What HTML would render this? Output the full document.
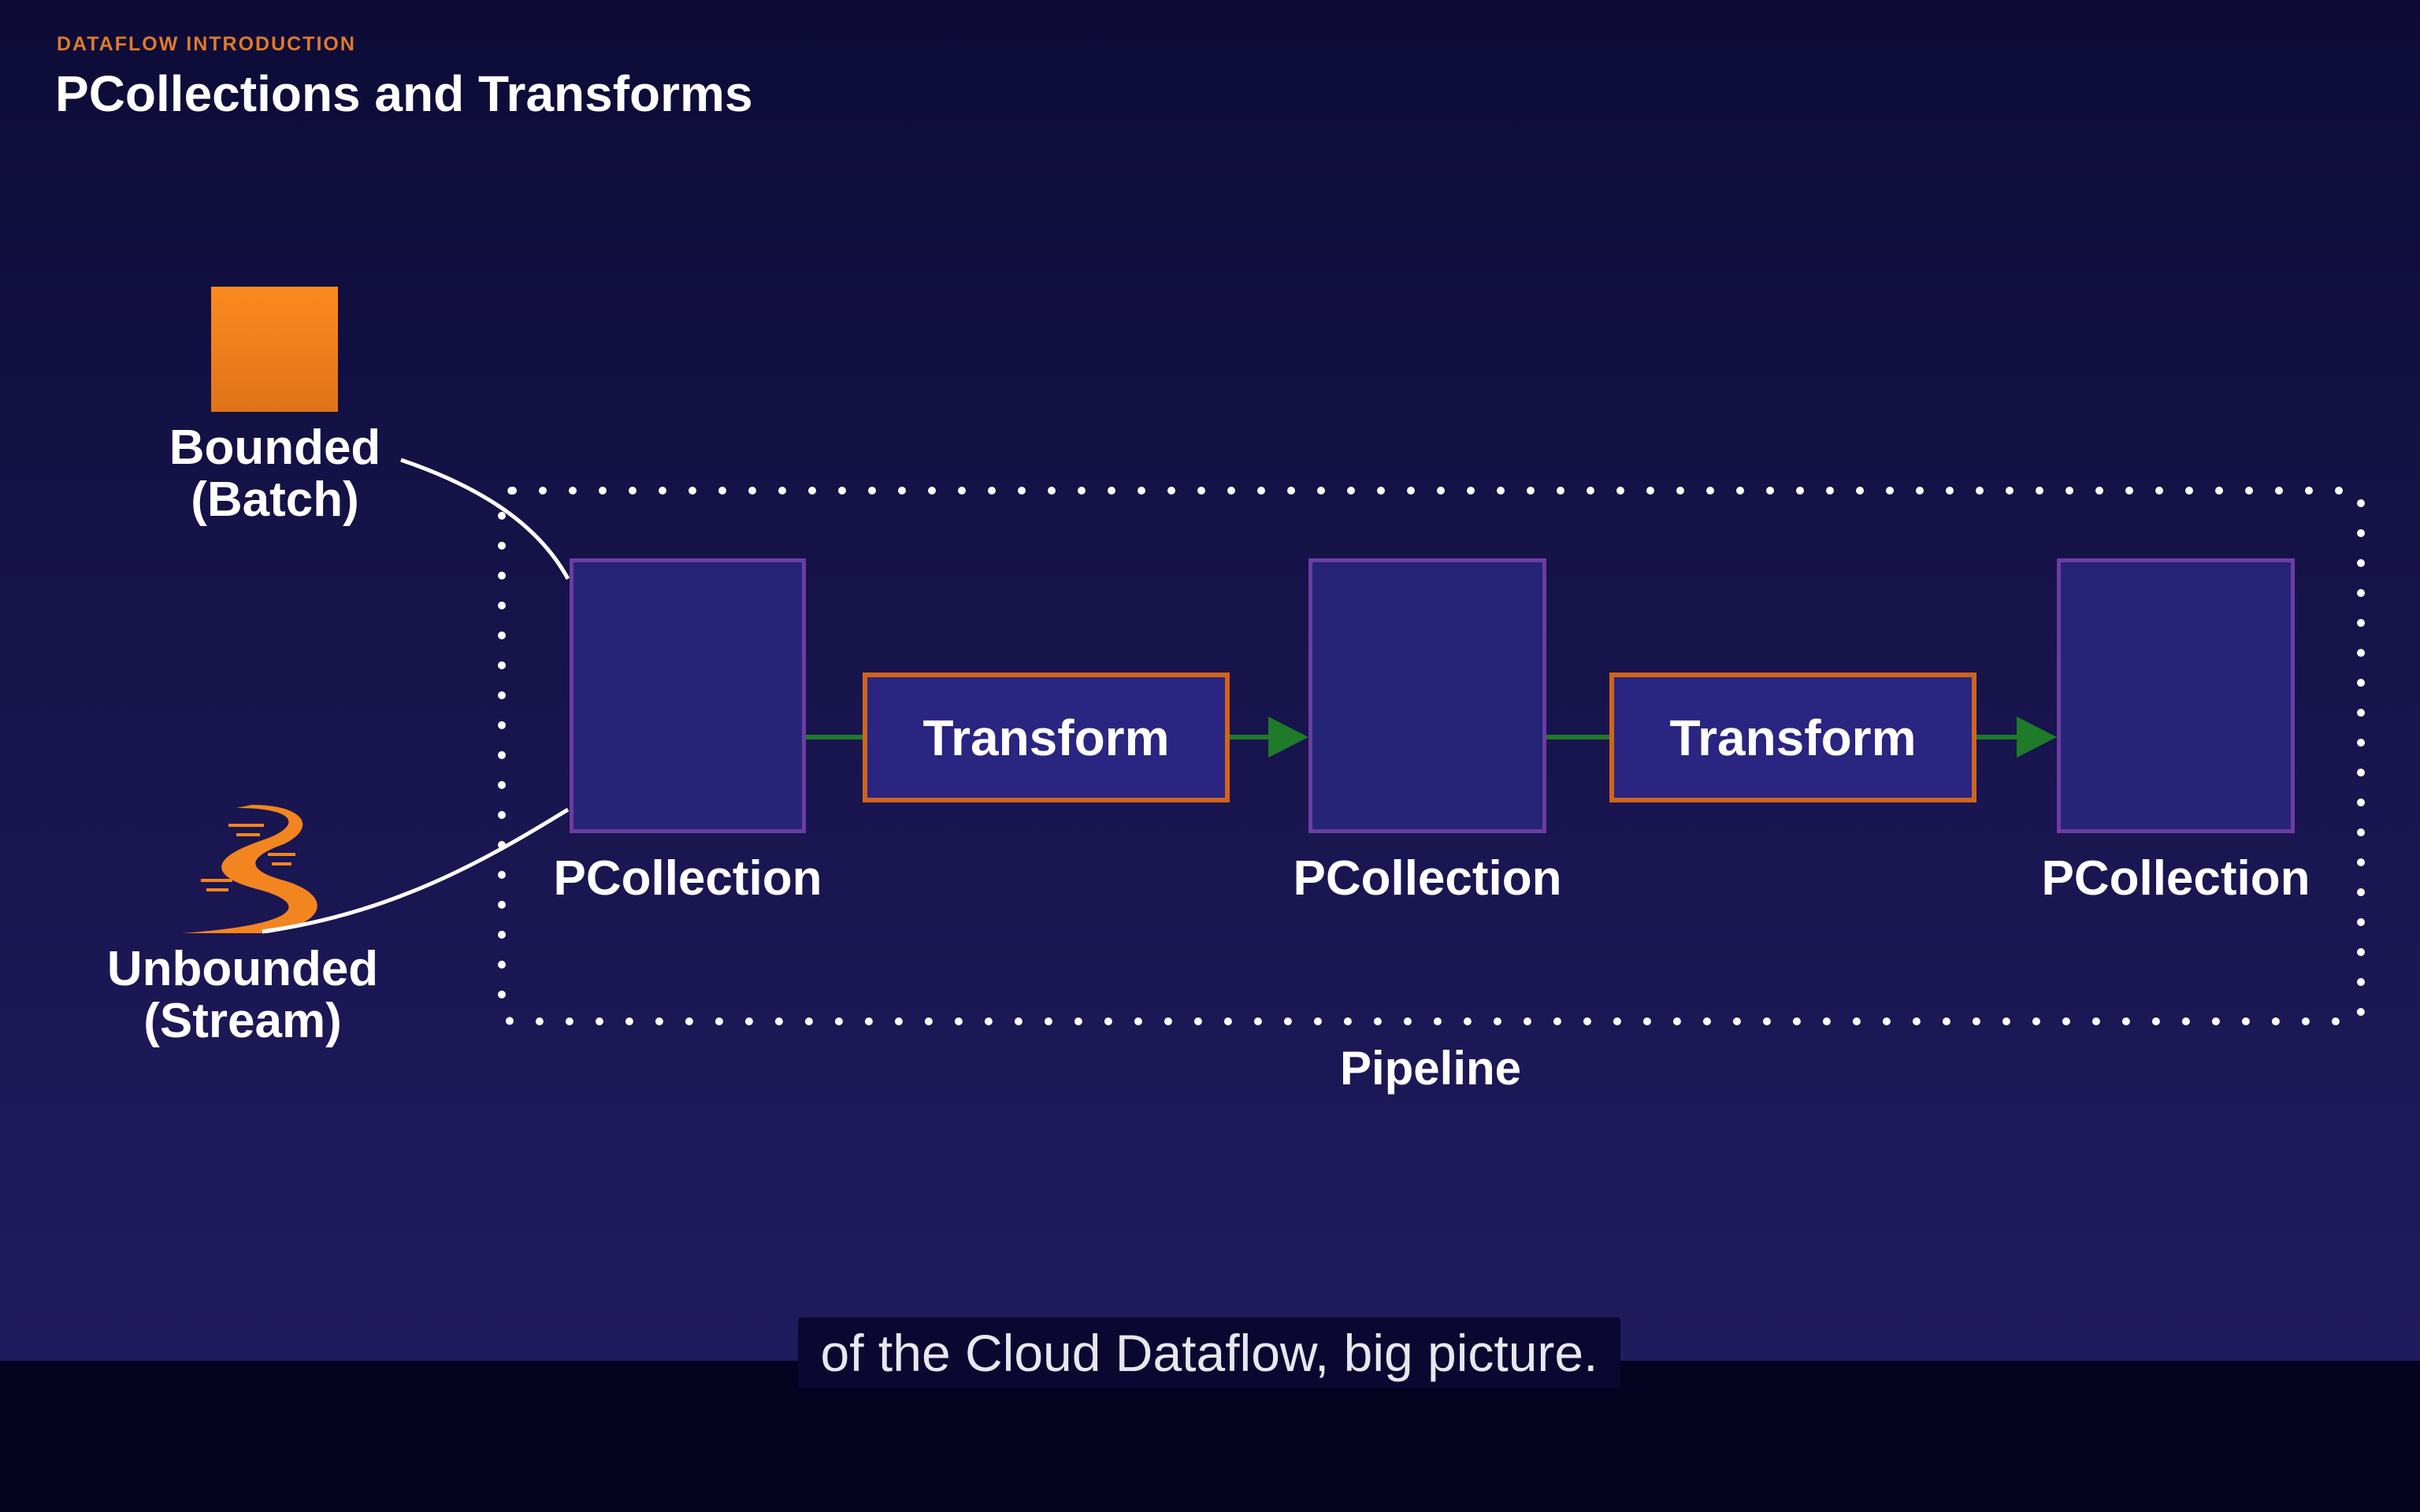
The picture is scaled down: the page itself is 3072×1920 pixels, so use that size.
<!DOCTYPE html>
<html><head><meta charset="utf-8"><style>
html,body{margin:0;padding:0}
body{width:3072px;height:1920px;position:relative;overflow:hidden;background:linear-gradient(180deg,#0d0b36 0%,#16134a 40%,#201b5e 90%);font-family:"Liberation Sans",sans-serif}
.t{position:absolute;color:#fff;font-weight:bold;white-space:nowrap}
.c{text-align:center;transform:translateX(-50%)}
.pc{position:absolute;background:#262477;border:5px solid #6b3da3;box-sizing:border-box}
.tr{position:absolute;background:#2a2580;border:6px solid #d0641e;box-sizing:border-box;color:#fff;font-weight:bold;font-size:64px;display:flex;align-items:center;justify-content:center}
</style></head><body>
<div class="t" style="left:72px;top:42px;font-size:25px;color:#e07a2a;letter-spacing:2px">DATAFLOW INTRODUCTION</div>
<div class="t" style="left:70px;top:82px;font-size:64px;letter-spacing:0px">PCollections and Transforms</div>

<div style="position:absolute;left:268px;top:364px;width:161px;height:159px;background:linear-gradient(#fb8a1e,#e0731a)"></div>
<div class="t c" style="left:349px;top:536px;font-size:62px;line-height:66px">Bounded<br>(Batch)</div>
<div class="t c" style="left:308px;top:1198px;font-size:62px;line-height:66px">Unbounded<br>(Stream)</div>

<svg width="3072" height="1920" style="position:absolute;left:0;top:0">
<path d="M300 1026 C380 1026 385 1050 330 1068 C260 1092 270 1115 330 1130 C395 1148 380 1175 230 1185 L340 1185 C420 1172 420 1135 360 1118 C310 1104 315 1088 360 1072 C405 1050 385 1022 320 1022 Z" fill="#f38520"/>
<g stroke="#f38520" stroke-width="4">
<line x1="290" y1="1048" x2="335" y2="1048"/><line x1="300" y1="1060" x2="330" y2="1060"/>
<line x1="340" y1="1085" x2="375" y2="1085"/><line x1="345" y1="1097" x2="370" y2="1097"/>
<line x1="255" y1="1118" x2="295" y2="1118"/><line x1="262" y1="1130" x2="290" y2="1130"/>
</g>
<path d="M509 584 C600 615 680 660 721 735" stroke="#fff" stroke-width="5" fill="none"/>
<path d="M333 1183 C500 1160 620 1090 721 1028" stroke="#fff" stroke-width="5" fill="none"/>
<rect x="637" y="623" width="2360" height="674" rx="14" fill="none" stroke="#fff" stroke-width="10" stroke-linecap="round" stroke-dasharray="0 38"/>
<g stroke="#1f7a2a" stroke-width="6">
<line x1="1023" y1="936" x2="1095" y2="936"/><line x1="1561" y1="936" x2="1615" y2="936"/>
<line x1="1963" y1="936" x2="2043" y2="936"/><line x1="2509" y1="936" x2="2565" y2="936"/>
</g>
<polygon points="1610,910 1661,936 1610,962" fill="#1f7a2a"/>
<polygon points="2560,910 2611,936 2560,962" fill="#1f7a2a"/>
</svg>

<div class="pc" style="left:723px;top:709px;width:300px;height:349px"></div>
<div class="pc" style="left:1661px;top:709px;width:302px;height:349px"></div>
<div class="pc" style="left:2611px;top:709px;width:302px;height:349px"></div>
<div class="tr" style="left:1095px;top:854px;width:466px;height:165px">Transform</div>
<div class="tr" style="left:2043px;top:854px;width:466px;height:165px">Transform</div>
<div class="t c" style="left:873px;top:1080px;font-size:62px">PCollection</div>
<div class="t c" style="left:1812px;top:1080px;font-size:62px">PCollection</div>
<div class="t c" style="left:2762px;top:1080px;font-size:62px">PCollection</div>
<div class="t c" style="left:1816px;top:1322px;font-size:60px">Pipeline</div>

<div style="position:absolute;left:0;top:1728px;width:3072px;height:192px;background:#05031f"></div>
<div style="position:absolute;left:1013px;top:1673px;width:1044px;height:90px;background:#0a0830;border-radius:4px;color:#e8e6f0;font-size:66px;display:flex;align-items:center;justify-content:center">of the Cloud Dataflow, big picture.</div>
</body></html>
